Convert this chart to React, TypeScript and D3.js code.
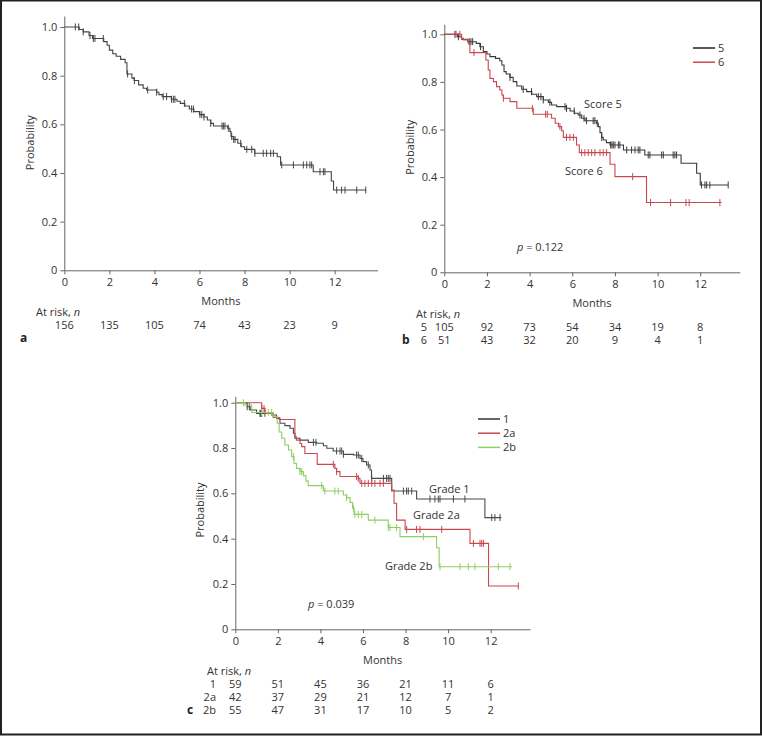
import { useEffect, useRef } from "react";
import * as d3 from "d3";

const monthTicks = [0, 2, 4, 6, 8, 10, 12];
const probTicks = [0, 0.2, 0.4, 0.6, 0.8, 1.0];

// panel a - whole cohort
const allTimes = [0, 0.66, 0.84, 1.1, 1.25, 1.75, 1.9, 2.0, 2.15, 2.3, 2.5, 2.7, 2.78, 3.0, 3.1, 3.3, 3.5, 3.65, 4.1, 4.2, 4.35, 4.75, 5.0, 5.15, 5.35, 5.55, 5.75, 6.0, 6.2, 6.35, 6.5, 6.62, 7.25, 7.35, 7.4, 7.5, 7.7, 7.85, 8.0, 8.45, 9.45, 9.6, 11.05, 11.85, 11.95];
const allSurv = [1, 0.99, 0.98, 0.965, 0.953, 0.94, 0.925, 0.905, 0.89, 0.88, 0.867, 0.853, 0.807, 0.79, 0.78, 0.762, 0.748, 0.741, 0.732, 0.722, 0.714, 0.703, 0.695, 0.686, 0.675, 0.663, 0.652, 0.64, 0.63, 0.618, 0.604, 0.593, 0.584, 0.57, 0.55, 0.538, 0.522, 0.508, 0.497, 0.481, 0.467, 0.433, 0.405, 0.367, 0.33];
const allEnd = 13.4;
const allCensor = [0.49, 0.64, 0.84, 1.14, 1.29, 1.36, 1.73, 2.81, 3.11, 3.7, 4.1, 4.39, 4.54, 4.76, 4.84, 4.91, 5.33, 5.65, 5.73, 6.02, 6.1, 6.2, 6.5, 7.0, 7.06, 7.13, 7.28, 7.43, 7.52, 7.58, 7.83, 8.1, 8.32, 8.46, 8.83, 8.98, 9.16, 9.28, 9.65, 10.17, 10.61, 10.76, 10.9, 10.98, 11.35, 11.5, 11.57, 12.09, 12.31, 12.46, 12.98, 13.38];
const allRisk = [156, 135, 105, 74, 43, 23, 9];

// panel b - score 5 / score 6
const score5Times = [0, 0.62, 0.81, 1.1, 1.5, 1.67, 1.83, 2.0, 2.14, 2.4, 2.6, 2.7, 2.8, 2.9, 3.08, 3.23, 3.4, 3.63, 3.86, 4.1, 4.33, 4.64, 4.88, 5.03, 5.27, 5.73, 5.9, 6.1, 6.28, 6.44, 6.6, 7.14, 7.22, 7.3, 7.38, 7.45, 7.6, 7.77, 8.4, 9.4, 11.1, 11.83, 12.0];
const score5Surv = [1, 0.99, 0.979, 0.969, 0.962, 0.948, 0.927, 0.917, 0.906, 0.899, 0.889, 0.871, 0.843, 0.833, 0.819, 0.801, 0.783, 0.769, 0.759, 0.748, 0.738, 0.724, 0.714, 0.703, 0.696, 0.689, 0.678, 0.668, 0.661, 0.647, 0.637, 0.626, 0.612, 0.587, 0.567, 0.556, 0.545, 0.535, 0.514, 0.493, 0.458, 0.416, 0.367];
const score5End = 13.3;
const score5Censor = [0.5, 0.66, 1.17, 1.25, 1.33, 1.7, 3.08, 3.7, 4.09, 4.41, 4.53, 4.64, 4.95, 5.66, 5.73, 6.09, 6.36, 6.55, 6.67, 6.98, 7.06, 7.17, 7.38, 7.8, 7.86, 7.92, 8.0, 8.16, 8.23, 8.55, 8.78, 8.94, 9.09, 9.17, 9.56, 9.64, 10.19, 10.27, 10.73, 10.81, 10.89, 12.06, 12.22, 12.3, 12.45, 13.31];
const score5Risk = [105, 92, 73, 54, 34, 19, 8];

const score6Times = [0, 0.81, 0.9, 1.13, 1.2, 1.95, 2.06, 2.14, 2.3, 2.45, 2.6, 2.7, 2.77, 3.08, 3.4, 4.17, 5.03, 5.2, 5.35, 5.5, 5.58, 6.2, 6.33, 7.77, 8.0, 9.48];
const score6Surv = [1, 0.983, 0.976, 0.962, 0.923, 0.892, 0.85, 0.815, 0.801, 0.78, 0.766, 0.745, 0.731, 0.717, 0.689, 0.664, 0.647, 0.626, 0.612, 0.595, 0.567, 0.535, 0.503, 0.454, 0.402, 0.293];
const score6End = 13.0;
const score6Censor = [0.55, 0.73, 1.39, 2.77, 4.13, 4.75, 4.83, 5.42, 5.73, 5.89, 6.05, 6.44, 6.59, 6.75, 6.91, 7.06, 7.3, 7.45, 7.61, 8.83, 9.67, 10.61, 11.33, 11.48, 12.92];
const score6Risk = [51, 43, 32, 20, 9, 4, 1];

// panel c - grade 1 / 2a / 2b
const grade1Times = [0, 0.56, 0.7, 1.0, 1.7, 1.94, 2.1, 2.33, 2.57, 2.73, 2.8, 3.04, 3.43, 3.82, 4.14, 4.3, 4.6, 5.08, 5.55, 5.86, 6.0, 6.17, 6.33, 6.4, 7.35, 8.52, 11.73];
const grade1Surv = [1, 0.982, 0.968, 0.953, 0.946, 0.931, 0.909, 0.899, 0.887, 0.865, 0.843, 0.835, 0.825, 0.821, 0.81, 0.799, 0.787, 0.772, 0.769, 0.754, 0.74, 0.725, 0.703, 0.666, 0.61, 0.575, 0.493];
const grade1End = 12.5;
const grade1Censor = [0.56, 0.66, 1.16, 1.19, 1.24, 1.39, 3.67, 3.79, 4.76, 4.92, 5.0, 5.08, 5.7, 5.78, 5.94, 6.25, 6.41, 6.96, 7.11, 7.19, 7.27, 7.9, 8.05, 8.13, 8.29, 9.15, 9.38, 9.54, 9.62, 10.25, 10.79, 12.05, 12.2, 12.44];
const grade1Risk = [59, 51, 45, 36, 21, 11, 6];

const grade2aTimes = [0, 1.24, 1.4, 1.78, 2.06, 2.8, 2.87, 3.04, 3.12, 3.27, 3.85, 4.68, 4.76, 4.92, 5.78, 5.86, 7.35, 7.46, 7.58, 7.98, 11.03, 11.9];
const grade2aSurv = [1, 0.975, 0.953, 0.935, 0.926, 0.85, 0.835, 0.82, 0.806, 0.776, 0.728, 0.71, 0.696, 0.674, 0.666, 0.644, 0.615, 0.556, 0.482, 0.441, 0.379, 0.191];
const grade2aEnd = 13.3;
const grade2aCensor = [1.24, 1.35, 4.61, 4.76, 5.7, 5.78, 5.94, 6.09, 6.25, 6.41, 6.56, 6.8, 6.96, 8.05, 8.52, 8.68, 9.7, 11.19, 11.5, 11.58, 11.66, 13.3];
const grade2aRisk = [42, 37, 29, 21, 12, 7, 1];

const grade2bTimes = [0, 0.45, 0.77, 1.78, 1.97, 2.06, 2.18, 2.33, 2.5, 2.65, 2.76, 2.88, 3.04, 3.2, 3.32, 3.43, 4.14, 5.08, 5.23, 5.39, 5.51, 5.58, 6.25, 7.19, 7.74, 9.46, 9.58];
const grade2bSurv = [1, 0.99, 0.957, 0.938, 0.909, 0.871, 0.843, 0.813, 0.791, 0.762, 0.732, 0.71, 0.696, 0.678, 0.654, 0.634, 0.61, 0.593, 0.581, 0.56, 0.534, 0.507, 0.482, 0.449, 0.409, 0.36, 0.276];
const grade2bEnd = 13.0;
const grade2bCensor = [0.38, 1.24, 1.55, 1.71, 2.73, 3.04, 3.12, 4.06, 4.21, 4.68, 4.84, 5.23, 5.55, 5.62, 5.78, 5.94, 6.56, 7.19, 7.27, 7.58, 8.84, 9.62, 10.56, 10.95, 11.26, 12.36, 12.91];
const grade2bRisk = [55, 47, 31, 17, 10, 5, 2];

const FONT = "'Open Sans', sans-serif";
const DARK = "#3a3a3a";
const RED = "#c9474f";
const GREEN = "#8ccf63";
const ROW_GAP = 13;

type Curve = { times: number[]; surv: number[]; end: number; censor: number[]; color: string };

function drawPanel(svg: any, cfg: any) {
  const x = d3.scaleLinear().domain([0, cfg.xMax]).range([cfg.x0, cfg.x0 + cfg.xMax * cfg.pxPerMonth]);
  const y = d3.scaleLinear().domain([0, 1]).range([cfg.yBottom, cfg.yTop]);
  const g = svg.append("g");

  const xAxis = d3.axisBottom(x).tickValues(monthTicks).tickSize(4).tickSizeOuter(0).tickPadding(4);
  const yAxis = d3.axisLeft(y.copy().domain([0, cfg.yMax]).range([cfg.yBottom, y(cfg.yMax)]))
    .tickValues(probTicks).tickSize(4).tickSizeOuter(0).tickPadding(3)
    .tickFormat((d: any) => (d === 0 ? "0" : d3.format(".1f")(d)));

  const gx = g.append("g").attr("transform", `translate(0,${cfg.yBottom})`).call(xAxis);
  const gy = g.append("g").attr("transform", `translate(${cfg.x0},0)`).call(yAxis);
  [gx, gy].forEach((a) => {
    a.selectAll("path, line").attr("stroke", "#666");
    a.selectAll("text").attr("font-family", FONT).attr("font-size", 11).attr("fill", "#333");
  });

  g.append("text")
    .attr("x", (x.range()[0] + x.range()[1]) / 2)
    .attr("y", cfg.yBottom + 35)
    .attr("text-anchor", "middle")
    .attr("font-family", FONT).attr("font-size", 11).attr("fill", "#333")
    .text("Months");

  g.append("text")
    .attr("transform", `translate(${cfg.yLabelX},${(cfg.yTop + cfg.yBottom) / 2 - 6}) rotate(-90)`)
    .attr("text-anchor", "middle")
    .attr("font-family", FONT).attr("font-size", 11).attr("fill", "#333")
    .text("Probability");

  const line = d3.line<[number, number]>()
    .x((d) => x(d[0]))
    .y((d) => y(d[1]))
    .curve(d3.curveStepAfter);

  cfg.curves.forEach((c: Curve) => {
    const pts: [number, number][] = c.times.map((t, i) => [t, c.surv[i]]);
    pts.push([c.end, c.surv[c.surv.length - 1]]);
    g.append("path").attr("d", line(pts)).attr("fill", "none").attr("stroke", c.color).attr("stroke-width", 1.1);
    c.censor.forEach((t) => {
      const i = Math.max(0, d3.bisectRight(c.times, t) - 1);
      const yy = y(c.surv[i]);
      g.append("line")
        .attr("x1", x(t)).attr("x2", x(t))
        .attr("y1", yy - 3.5).attr("y2", yy + 3.5)
        .attr("stroke", c.color).attr("stroke-width", 1);
    });
  });

  // at-risk table
  const tb = cfg.yBottom + 46;
  const atRisk = g.append("text").attr("x", cfg.atRiskX).attr("y", tb)
    .attr("font-family", FONT).attr("font-size", 11).attr("fill", "#333");
  atRisk.append("tspan").text("At risk, ");
  atRisk.append("tspan").attr("font-style", "italic").text("n");

  cfg.rows.forEach((row: any, r: number) => {
    const yy = tb + ROW_GAP + r * ROW_GAP;
    if (row.label) {
      g.append("text").attr("x", cfg.rowLabelX).attr("y", yy).attr("text-anchor", "end")
        .attr("font-family", FONT).attr("font-size", 11).attr("fill", "#333").text(row.label);
    }
    row.values.forEach((v: number, i: number) => {
      g.append("text").attr("x", x(monthTicks[i])).attr("y", yy).attr("text-anchor", "middle")
        .attr("font-family", FONT).attr("font-size", 11).attr("fill", "#333").text(v);
    });
  });

  const letterY = cfg.rows.length === 1 ? tb + 2 * ROW_GAP : tb + cfg.rows.length * ROW_GAP;
  g.append("text").attr("x", cfg.letterX).attr("y", letterY)
    .attr("font-family", FONT).attr("font-size", 12).attr("font-weight", "bold").attr("fill", "#222")
    .text(cfg.letter);

  (cfg.legend || []).forEach((l: any, i: number) => {
    const yy = cfg.legendY + i * 14.2;
    g.append("line").attr("x1", cfg.legendX).attr("x2", cfg.legendX + 22)
      .attr("y1", yy).attr("y2", yy).attr("stroke", l.color).attr("stroke-width", 1.5);
    g.append("text").attr("x", cfg.legendX + 25).attr("y", yy + 4)
      .attr("font-family", FONT).attr("font-size", 11).attr("fill", "#333").text(l.label);
  });

  (cfg.notes || []).forEach((n: any) => {
    const t = g.append("text").attr("x", n.x).attr("y", n.y)
      .attr("font-family", FONT).attr("font-size", 11).attr("fill", "#333");
    if (n.p) {
      t.append("tspan").attr("font-style", "italic").text("p");
      t.append("tspan").text(" = " + n.text);
    } else {
      t.text(n.text);
    }
  });
}

const App = () => {
  const ref = useRef<SVGSVGElement>(null);

  useEffect(() => {
    const svg = d3.select(ref.current);
    svg.selectAll("*").remove();

    svg.append("rect").attr("x", 1).attr("y", 0.5).attr("width", 760).attr("height", 734)
      .attr("fill", "white").attr("stroke", "#222").attr("stroke-width", 2);

    drawPanel(svg, {
      x0: 64.3, pxPerMonth: 22.53, xMax: 13.9, yTop: 27, yBottom: 270.3, yMax: 1.045, yLabelX: 34,
      curves: [{ times: allTimes, surv: allSurv, end: allEnd, censor: allCensor, color: "#444" }],
      atRiskX: 36, rowLabelX: 0, letterX: 20, letter: "a",
      rows: [{ label: "", values: allRisk }],
    });

    drawPanel(svg, {
      x0: 444.3, pxPerMonth: 21.33, xMax: 13.85, yTop: 34.3, yBottom: 272.3, yMax: 1.042, yLabelX: 414,
      curves: [
        { times: score5Times, surv: score5Surv, end: score5End, censor: score5Censor, color: DARK },
        { times: score6Times, surv: score6Surv, end: score6End, censor: score6Censor, color: RED },
      ],
      atRiskX: 416, rowLabelX: 427, letterX: 402, letter: "b",
      rows: [{ label: "5", values: score5Risk }, { label: "6", values: score6Risk }],
      legend: [{ label: "5", color: "#222" }, { label: "6", color: RED }],
      legendX: 693, legendY: 48,
      notes: [
        { x: 584, y: 108, text: "Score 5" },
        { x: 565, y: 175, text: "Score 6" },
        { x: 517, y: 251, text: "0.122", p: true },
      ],
    });

    drawPanel(svg, {
      x0: 235.3, pxPerMonth: 21.28, xMax: 13.85, yTop: 402.7, yBottom: 629.3, yMax: 1.028, yLabelX: 204,
      curves: [
        { times: grade1Times, surv: grade1Surv, end: grade1End, censor: grade1Censor, color: "#4a4a4a" },
        { times: grade2aTimes, surv: grade2aSurv, end: grade2aEnd, censor: grade2aCensor, color: RED },
        { times: grade2bTimes, surv: grade2bSurv, end: grade2bEnd, censor: grade2bCensor, color: GREEN },
      ],
      atRiskX: 207, rowLabelX: 216, letterX: 187, letter: "c",
      rows: [
        { label: "1", values: grade1Risk },
        { label: "2a", values: grade2aRisk },
        { label: "2b", values: grade2bRisk },
      ],
      legend: [{ label: "1", color: "#333" }, { label: "2a", color: RED }, { label: "2b", color: GREEN }],
      legendX: 478, legendY: 419,
      notes: [
        { x: 429, y: 493, text: "Grade 1" },
        { x: 413, y: 519, text: "Grade 2a" },
        { x: 385, y: 570, text: "Grade 2b" },
        { x: 308, y: 608, text: "0.039", p: true },
      ],
    });
  }, []);

  return (
    <div style={{ position: "absolute", left: 0, top: 0 }}>
      <svg ref={ref} width={762} height={736} style={{ display: "block" }} />
    </div>
  );
};

export default App;
